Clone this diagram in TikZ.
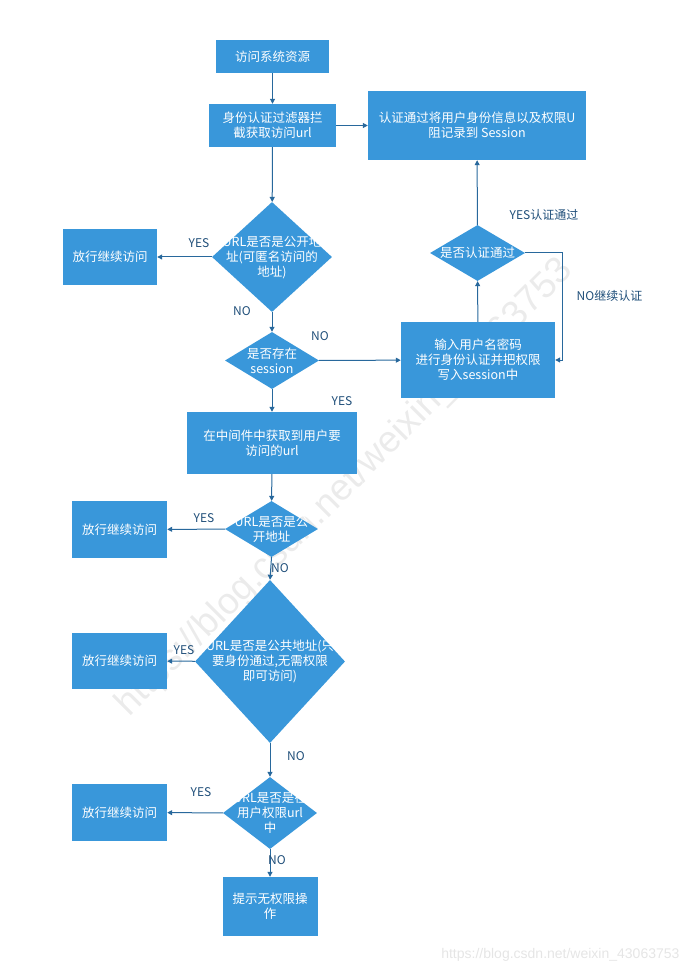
\documentclass[tikz,border=0pt]{standalone}
\usepackage{fontspec}
\setmainfont{Noto Sans CJK SC}
\newfontfamily\wmfont{Liberation Sans}
\usetikzlibrary{shapes.geometric}
\usetikzlibrary{arrows.meta}
\definecolor{boxblue}{RGB}{57,151,218}
\definecolor{lineblue}{RGB}{40,104,156}
\definecolor{labelblue}{RGB}{31,78,121}
\tikzset{
  flownode/.style = {align=center, inner sep=0pt, text=white, font=\fontsize{12.5}{15}\selectfont},
  proc/.style = {flownode, rectangle, fill=boxblue},% blok, vaste maat
  cond/.style = {inner sep=0pt, diamond, fill=boxblue},% ruit zonder tekst
  condtext/.style = {flownode},
  lbl/.style = {inner sep=0pt, text=labelblue, font=\fontsize{12}{14}\selectfont},
  flow/.style = {draw=lineblue, line width=1pt, -{Triangle[length=5pt,width=5pt]}}
}
\begin{document}
\begin{tikzpicture}[x=1pt,y=-1pt]
\useasboundingbox (0,0) rectangle (693,973);
% watermerk
\node [rotate=45, text=black!8, font=\wmfont\fontsize{37}{37}\selectfont] (wm) at (345,488) {https://blog.csdn.net/weixin\_43063753};
\node [anchor=east, text=black!10, font=\wmfont\fontsize{14}{14}\selectfont] (wmurl) at (683,955) {https://blog.csdn.net/weixin\_43063753};

\node [proc, minimum width=113, minimum height=33] (start) at (272.5,56.5) {访问系统资源};
\node [proc, minimum width=127, minimum height=43] (filter) at (272.5,125.5) {身份认证过滤器拦\\截获取访问url};
\node [proc, minimum width=218, minimum height=69] (store) at (477,125.5) {认证通过将用户身份信息以及权限U\\阻记录到 Session};

\node [cond, minimum width=120, minimum height=110] (anon) at (272,257) {};
\node [condtext] (anont) at (anon) {URL是否是公开地\\址(可匿名访问的\\地址)};
\node [proc, minimum width=94, minimum height=56] (pass1) at (110,257) {放行继续访问};

\node [cond, minimum width=94, minimum height=57] (sess) at (272,360.5) {};
\node [condtext] (sesst) at (sess) {是否存在\\session};
\node [proc, minimum width=154, minimum height=76] (login) at (478,360) {输入用户名密码\\进行身份认证并把权限\\写入session中};
\node [cond, minimum width=95, minimum height=56] (authok) at (477.5,253) {};
\node [condtext] (authokt) at (authok) {是否认证通过};
\coordinate (retry) at (562,360);

\node [proc, minimum width=170, minimum height=62] (mw) at (272,443) {在中间件中获取到用户要\\访问的url};
\node [cond, minimum width=93, minimum height=56] (pub) at (271.5,529) {};
\node [condtext] (pubt) at (pub) {URL是否是公\\开地址};
\node [proc, minimum width=95, minimum height=57] (pass2) at (119.5,529.5) {放行继续访问};

\node [cond, minimum width=150, minimum height=163] (common) at (270,661.5) {};
\node [condtext] (commont) at (common) {URL是否是公共地址(只\\要身份通过,无需权限\\即可访问)};
\node [proc, minimum width=95, minimum height=56] (pass3) at (119.5,661) {放行继续访问};

\node [cond, minimum width=94, minimum height=72] (perm) at (270,813) {};
\node [condtext] (permt) at (perm) {URL是否是在\\用户权限url\\中};
\node [proc, minimum width=95, minimum height=57] (pass4) at (119.5,812.5) {放行继续访问};
\node [proc, minimum width=95, minimum height=59] (deny) at (270,906.5) {提示无权限操\\作};

% verbindingen
\draw [flow] (start) -- (filter);
\draw [flow] (filter) -- (store);
\draw [flow] (filter) -- (anon);
\draw [flow] (anon) -- (pass1);
\draw [flow] (anon) -- (sess);
\draw [flow] (sess) -- (login);
\draw [flow] (login) -- (authok);
\draw [flow] (authok) -- (store);
\draw [flow] (authok.east) -| (retry) -- (login.east);
\draw [flow] (sess) -- (mw);
\draw [flow] (mw) -- (pub);
\draw [flow] (pub) -- (pass2);
\draw [flow] (pub.south) -- (common.north);
\draw [flow] (common) -- (pass3);
\draw [flow] (common) -- (perm);
\draw [flow] (perm) -- (pass4);
\draw [flow] (perm) -- (deny);

% labels
\node [lbl] (yes1) at (199,243) {YES};
\node [lbl] (no1) at (242,311) {NO};
\node [lbl] (no2) at (320,336) {NO};
\node [lbl] (yes2) at (342,401) {YES};
\node [lbl] (yesok) at (544,215) {YES认证通过};
\node [lbl] (nook) at (609.5,296) {NO继续认证};
\node [lbl] (yes3) at (204,518) {YES};
\node [lbl] (no3) at (280,568) {NO};
\node [lbl] (yes4) at (184,650) {YES};
\node [lbl] (no4) at (296,756) {NO};
\node [lbl] (yes5) at (201,792) {YES};
\node [lbl] (no5) at (277,860) {NO};
\end{tikzpicture}
\end{document}
